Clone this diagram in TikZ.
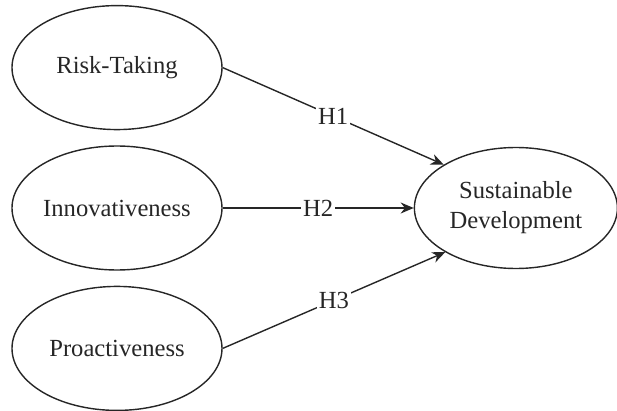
\documentclass[tikz,border=0pt]{standalone}
\usepackage{fontspec}
\setmainfont{Liberation Serif}
\usepackage{tikz}
\usetikzlibrary{arrows.meta,positioning,shapes.geometric}
\tikzset{
  sem/construct/.style={draw, ellipse, line width=0.8pt, inner sep=0pt, minimum width=42mm, minimum height=24.8mm, align=center},
  sem/path/.style={line width=0.8pt, -{Stealth[length=2.6mm, width=2.2mm]}},
  sem/hyp/.style={fill=white, inner sep=1pt, font=\fontsize{14}{17}\selectfont}
}

\begin{document}
\begin{tikzpicture}[
  font=\fontsize{14}{17}\selectfont,
  color=black!85,
  construct/.style={sem/construct},
  outcome/.style={sem/construct, minimum width=40.6mm, minimum height=24.2mm},
  path/.style={sem/path},
  hyp/.style={sem/hyp}
]
\useasboundingbox (-2.34,-4.06) rectangle (10.0,4.16);

% --- Independent constructs ---
\node[construct] (inno) at (0,0) {Innovativeness};
\node[construct, above=3mm of inno] (risk) {Risk-Taking};
\node[construct, below=3mm of inno] (proact) {Proactiveness};

% --- Dependent construct ---
\node[outcome, right=38.2mm of inno] (susdev) {Sustainable\\Development};

% --- Hypotheses ---
\draw[path] (risk.east) -- node[hyp] {H1} (susdev.149);
\draw[path] (inno.east) -- node[hyp] {H2} (susdev.west);
\draw[path] (proact.east) -- node[hyp] {H3} (susdev.212);

\end{tikzpicture}
\end{document}
